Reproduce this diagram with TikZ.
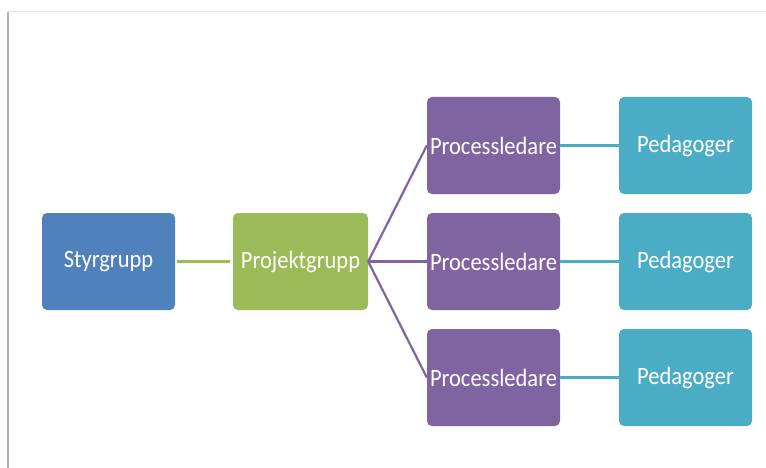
\documentclass[tikz,border=0pt]{standalone}
\usepackage{fontspec}
\setmainfont{Carlito}[FakeStretch=0.9]
\definecolor{cblue}{HTML}{4F81BD}
\definecolor{cgreen}{HTML}{9BBB59}
\definecolor{cpurple}{HTML}{8064A2}
\definecolor{ccyan}{HTML}{4BACC6}
\begin{document}
\begin{tikzpicture}[x=1pt,y=-1pt,
  box/.style={rounded corners=5pt, minimum width=133pt, minimum height=97pt, inner sep=0pt,
    text=white, font=\fontsize{25}{28}\selectfont, anchor=center},
  conn/.style={line width=2.2pt}]
\useasboundingbox (0,0) rectangle (766,468);
\fill[white] (0,0) rectangle (766,468);
\draw[gray!60, line width=1.6pt] (8,468) -- (8,12);
\draw[gray!20, line width=1pt] (8,12) -- (766,12);
\node[box, fill=cblue] (s) at (108.5,261.5) {Styrgrupp};
\node[box, fill=cgreen, minimum width=135pt] (p) at (300.5,261.5) {Projektgrupp};
\node[box, fill=cpurple] (l1) at (493.5,145.5) {Processledare};
\node[box, fill=cpurple] (l2) at (493.5,261.5) {Processledare};
\node[box, fill=cpurple] (l3) at (493.5,377.5) {Processledare};
\node[box, fill=ccyan] (g1) at (685.5,145.5) {Pedagoger};
\node[box, fill=ccyan] (g2) at (685.5,261.5) {Pedagoger};
\node[box, fill=ccyan] (g3) at (685.5,377.5) {Pedagoger};
\draw[conn, cgreen] (s.east) ++(2,0) -- ([xshift=-3pt]p.west);
\draw[conn, cpurple] (p.east) -- (l1.west);
\draw[conn, cpurple] (p.east) -- (l2.west);
\draw[conn, cpurple] (p.east) -- (l3.west);
\draw[conn, ccyan] (l1.east) -- (g1.west);
\draw[conn, ccyan] (l2.east) -- (g2.west);
\draw[conn, ccyan] (l3.east) -- (g3.west);
\end{tikzpicture}
\end{document}
